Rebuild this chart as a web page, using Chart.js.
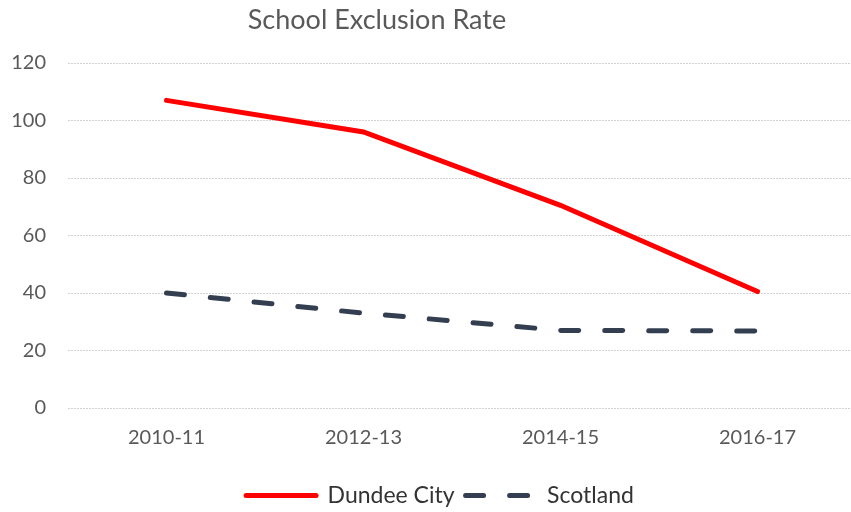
<!DOCTYPE html>
<html>
<head>
<meta charset="utf-8">
<script src="https://cdn.jsdelivr.net/npm/chart.js@4/dist/chart.umd.min.js"></script>
<style>
  html, body { margin: 0; padding: 0; background: #fff; overflow: hidden; }
  #wrap { position: relative; width: 856px; height: 512px; }
</style>
</head>
<body>
<div id="wrap"><canvas id="exclusionChart"></canvas></div>
<script>
const years = ['2010-11', '2012-13', '2014-15', '2016-17'];
const dundee = [107, 96, 70.5, 40.5];
const scotland = [40, 33, 27, 26.8];
const yTicks = [0, 20, 40, 60, 80, 100, 120];

const FONT = 'Lato, "Open Sans", sans-serif';

// nudge the title and legend, like the original layout
const shiftBoxes = {
    id: 'shiftBoxes',
    afterLayout(chart) {
        const t = chart.titleBlock;
        if (t) { t.left -= 51; t.right -= 51; }
        const l = chart.legend;
        if (l) { l.left += 12; l.right += 12; l.top += 5; l.bottom += 5; }
    }
};

new Chart(document.getElementById('exclusionChart'), {
    type: 'line',
    data: {
        labels: years,
        datasets: [
            { label: 'Dundee City', data: dundee, borderColor: '#ff0000', backgroundColor: '#ff0000',
              borderWidth: 5, borderCapStyle: 'round', pointRadius: 0, tension: 0 },
            { label: 'Scotland', data: scotland, borderColor: '#333f50', backgroundColor: '#333f50',
              borderWidth: 5, borderCapStyle: 'round', borderDash: [18, 26], pointRadius: 0, tension: 0 }
        ]
    },
    options: {
        responsive: true, maintainAspectRatio: false, animation: false,
        layout: { padding: 0 },
        plugins: {
            title: { display: true, text: 'School Exclusion Rate', color: '#595959',
                     font: { family: FONT, size: 27, weight: 'normal' }, padding: { top: 4, bottom: 26.6 } },
            legend: {
                position: 'bottom',
                labels: {
                    usePointStyle: true, pointStyle: 'line', pointStyleWidth: 70,
                    color: '#333', font: { family: FONT, size: 23, lineHeight: 1 }, padding: 11,
                    generateLabels(chart) {
                        const items = Chart.defaults.plugins.legend.labels.generateLabels(chart);
                        items.forEach(it => {
                            const ds = chart.data.datasets[it.datasetIndex];
                            it.lineDash = ds.borderDash || [];
                            it.lineCap = 'round';
                            it.lineWidth = 5;
                            it.strokeStyle = ds.borderColor;
                        });
                        return items;
                    }
                }
            },
            tooltip: { enabled: false }
        },
        scales: {
            x: {
                offset: true,
                grid: { display: false, drawTicks: false },
                border: { display: false },
                ticks: { color: '#595959', font: { family: FONT, size: 20 }, padding: 18 }
            },
            y: {
                min: 0, max: 120,
                afterFit(scale) { scale.width = 68; },
                afterBuildTicks(scale) { scale.ticks = yTicks.map(v => ({ value: v })); },
                grid: { color: '#d2d2d2', drawTicks: false },
                border: { display: false, dash: [2, 1] },
                ticks: { color: '#595959', font: { family: FONT, size: 20 }, padding: 22 }
            }
        }
    },
    plugins: [shiftBoxes]
});
</script>
</body>
</html>
